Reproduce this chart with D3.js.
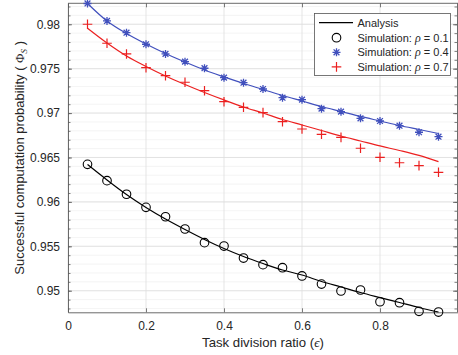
<!DOCTYPE html>
<html>
<head>
<meta charset="utf-8">
<script src="https://cdn.jsdelivr.net/npm/d3@7"></script>
<style>
  body { margin: 0; background: #fff; }
  text { font-family: "Liberation Sans", Arial, sans-serif; fill: #262626; }
</style>
</head>
<body>
<svg id="chart" width="458" height="355"></svg>
<script>
// task division ratio values
var ratios = [0.05, 0.1, 0.15, 0.2, 0.25, 0.3, 0.35, 0.4, 0.45, 0.5,
              0.55, 0.6, 0.65, 0.7, 0.75, 0.8, 0.85, 0.9, 0.95];

// analysis curves
var anaRho1 = [0.96421, 0.96247, 0.96083, 0.95937, 0.95807, 0.95689, 0.95577, 0.95475, 0.95385, 0.95306,
               0.95233, 0.95177, 0.95104, 0.95042, 0.9498, 0.94923, 0.94867, 0.94811, 0.9476];
var anaRho4 = [0.98234, 0.98037, 0.97896, 0.97778, 0.97671, 0.97575, 0.97485, 0.97407, 0.97333, 0.97266,
               0.97198, 0.97136, 0.97074, 0.97018, 0.96962, 0.96911, 0.9686, 0.96815, 0.9677];
var anaRho7 = [0.97955, 0.97789, 0.97643, 0.97525, 0.97418, 0.97322, 0.97232, 0.97148, 0.97069, 0.97001,
               0.96928, 0.96866, 0.96804, 0.96742, 0.96686, 0.9663, 0.96579, 0.96523, 0.96453];

// simulation points
var simRho1 = [0.96423, 0.96239, 0.96086, 0.95939, 0.95833, 0.95695, 0.95541, 0.95503, 0.95368, 0.95293,
               0.95259, 0.95166, 0.95075, 0.94997, 0.95008, 0.94876, 0.94865, 0.94768, 0.9476];
var simRho4 = [0.98234, 0.98037, 0.97905, 0.97775, 0.97666, 0.97579, 0.97505, 0.97399, 0.97342, 0.97271,
               0.97173, 0.97151, 0.9705, 0.97016, 0.96941, 0.96911, 0.96858, 0.96784, 0.96734];
var simRho7 = [0.98, 0.97786, 0.97666, 0.97511, 0.97421, 0.97347, 0.97252, 0.97128, 0.97065, 0.97005,
               0.96903, 0.96821, 0.96761, 0.96727, 0.96604, 0.96502, 0.96441, 0.96408, 0.96333];

var xTicks = [0, 0.2, 0.4, 0.6, 0.8];
var yTicks = [0.95, 0.955, 0.96, 0.965, 0.97, 0.975, 0.98];
var legendLabels = ["Analysis", "Simulation: ", "Simulation: ", "Simulation: "];
var legendRho = ["", "0.1", "0.4", "0.7"];

(function(){
var svg = d3.select("#chart");
var pL = 68, pR = 458, pT = 3.3, pB = 312.3;

var x = d3.scaleLinear().domain([0, 1]).range([pL, pR]);
var y = d3.scaleLinear().domain([0.94757, 0.98236]).range([pB, pT]);

var blue = "#4150bd", red = "#ec2020", black = "#000";
var serif = "Liberation Serif, Times New Roman, serif";

// grid
var g = svg.append("g");
var minorY = d3.range(0.948, 0.9825, 0.001);
g.selectAll(".minor").data(minorY).enter().append("line")
  .attr("x1", pL).attr("x2", pR)
  .attr("y1", function(d){return y(d);}).attr("y2", function(d){return y(d);})
  .attr("stroke", "#ececec").attr("stroke-width", 0.6);
g.selectAll(".gy").data(yTicks).enter().append("line")
  .attr("x1", pL).attr("x2", pR)
  .attr("y1", function(d){return y(d);}).attr("y2", function(d){return y(d);})
  .attr("stroke", "#dedede").attr("stroke-width", 0.8);
g.selectAll(".gx").data(xTicks).enter().append("line")
  .attr("y1", pT).attr("y2", pB)
  .attr("x1", function(d){return x(d);}).attr("x2", function(d){return x(d);})
  .attr("stroke", "#dedede").attr("stroke-width", 0.8);

// axes box
var axisColor = "#5a5a5a";
var axB = svg.append("g").attr("transform", "translate(0," + pB + ")")
  .call(d3.axisBottom(x).tickValues(xTicks).tickSizeInner(-4).tickSizeOuter(0).tickPadding(9).tickFormat(d3.format("")));
var axT = svg.append("g").attr("transform", "translate(0," + pT + ")")
  .call(d3.axisTop(x).tickValues(xTicks).tickSizeInner(-4).tickSizeOuter(0).tickFormat(""));
var axL = svg.append("g").attr("transform", "translate(" + pL + ",0)")
  .call(d3.axisLeft(y).tickValues(yTicks).tickSizeInner(-4).tickSizeOuter(0).tickPadding(8).tickFormat(d3.format("")));
var axR = svg.append("g").attr("transform", "translate(" + (pR - 1) + ",0)")
  .call(d3.axisRight(y).tickValues(yTicks).tickSizeInner(-4).tickSizeOuter(0).tickFormat(""));
var mL = svg.append("g").attr("transform", "translate(" + pL + ",0)")
  .call(d3.axisLeft(y).tickValues(minorY).tickSizeInner(-2.5).tickSizeOuter(0).tickFormat(""));
var mR = svg.append("g").attr("transform", "translate(" + (pR - 1) + ",0)")
  .call(d3.axisRight(y).tickValues(minorY).tickSizeInner(-2.5).tickSizeOuter(0).tickFormat(""));
[axB, axT, axL, axR, mL, mR].forEach(function(a){
  a.select(".domain").attr("stroke", axisColor).attr("stroke-width", 0.9);
  a.selectAll(".tick line").attr("stroke", axisColor).attr("stroke-width", 0.8);
  a.selectAll(".tick text").style("font-family", "Liberation Sans, Arial, sans-serif")
    .style("font-size", "12px").attr("fill", "#262626");
});
axT.select(".domain").remove();
axR.select(".domain").remove();
mL.select(".domain").remove();
mR.select(".domain").remove();
svg.append("line").attr("x1", pL).attr("x2", pR).attr("y1", pT).attr("y2", pT)
  .attr("stroke", axisColor).attr("stroke-width", 0.9);
svg.append("line").attr("x1", pR - 0.5).attr("x2", pR - 0.5).attr("y1", pT).attr("y2", pB)
  .attr("stroke", axisColor).attr("stroke-width", 0.9);

// lines
var line = d3.line()
  .x(function(d){return x(d[0]);})
  .y(function(d){return y(d[1]);})
  .curve(d3.curveMonotoneX);
function pairs(vals){ return ratios.map(function(r, i){ return [r, vals[i]]; }); }

var plot = svg.append("g");
plot.append("path").datum(pairs(anaRho1)).attr("d", line)
  .attr("fill", "none").attr("stroke", black).attr("stroke-width", 1.2);
plot.append("path").datum(pairs(anaRho4)).attr("d", line)
  .attr("fill", "none").attr("stroke", blue).attr("stroke-width", 1.2);
plot.append("path").datum(pairs(anaRho7)).attr("d", line)
  .attr("fill", "none").attr("stroke", red).attr("stroke-width", 1.2);

// markers
function circleMark(sel, cx, cy){
  sel.append("circle").attr("cx", cx).attr("cy", cy).attr("r", 4.3)
    .attr("fill", "none").attr("stroke", black).attr("stroke-width", 1.1);
}
function starMark(sel, cx, cy){
  var s = 4, d = 2.9;
  var p = "M" + (cx - s) + "," + cy + "h" + (2 * s) +
          "M" + cx + "," + (cy - s) + "v" + (2 * s) +
          "M" + (cx - d) + "," + (cy - d) + "l" + (2 * d) + "," + (2 * d) +
          "M" + (cx - d) + "," + (cy + d) + "l" + (2 * d) + "," + (-2 * d);
  sel.append("path").attr("d", p).attr("stroke", blue).attr("stroke-width", 1.3).attr("fill", "none");
}
function plusMark(sel, cx, cy){
  var s = 4.8;
  var p = "M" + (cx - s) + "," + cy + "h" + (2 * s) + "M" + cx + "," + (cy - s) + "v" + (2 * s);
  sel.append("path").attr("d", p).attr("stroke", red).attr("stroke-width", 1.2).attr("fill", "none");
}
ratios.forEach(function(r, i){
  circleMark(plot, x(r), y(simRho1[i]));
  starMark(plot, x(r), y(simRho4[i]));
  plusMark(plot, x(r), y(simRho7[i]));
});

// legend
var lg = svg.append("g");
lg.append("rect").attr("x", 314.5).attr("y", 13.5).attr("width", 136).attr("height", 62)
  .attr("fill", "#fff").attr("stroke", "#555").attr("stroke-width", 0.8);
var rowY = [22.7, 37.7, 52.3, 66.9];
lg.append("line").attr("x1", 319).attr("x2", 353).attr("y1", rowY[0]).attr("y2", rowY[0])
  .attr("stroke", black).attr("stroke-width", 1.2);
circleMark(lg, 336.5, rowY[1]);
starMark(lg, 336.5, rowY[2]);
plusMark(lg, 336.5, rowY[3]);
legendLabels.forEach(function(t, i){
  var tx = lg.append("text").attr("x", 357.5).attr("y", rowY[i] + 4).style("font-size", "11px");
  tx.append("tspan").text(t);
  if (legendRho[i]) {
    tx.append("tspan").style("font-family", serif).style("font-style", "italic").style("font-size", "12px").text("\u03C1");
    tx.append("tspan").text(" = " + legendRho[i]);
  }
});

// axis titles
var xl = svg.append("text").attr("x", (pL + pR) / 2).attr("y", 347)
  .attr("text-anchor", "middle").style("font-size", "13.2px");
xl.append("tspan").text("Task division ratio (");
xl.append("tspan").style("font-family", serif).style("font-style", "italic").text("\u03F5");
xl.append("tspan").text(")");

var yl = svg.append("text")
  .attr("transform", "translate(24," + ((pT + pB) / 2) + ") rotate(-90)")
  .attr("text-anchor", "middle").style("font-size", "13px");
yl.append("tspan").text("Successful computation probability ( ");
yl.append("tspan").style("font-family", serif).text("\u03A6");
yl.append("tspan").attr("dy", 3).style("font-size", "9px").style("font-family", serif)
  .style("font-style", "italic").text("S");
yl.append("tspan").attr("dy", -3).text(" )");
})();
</script>
</body>
</html>
